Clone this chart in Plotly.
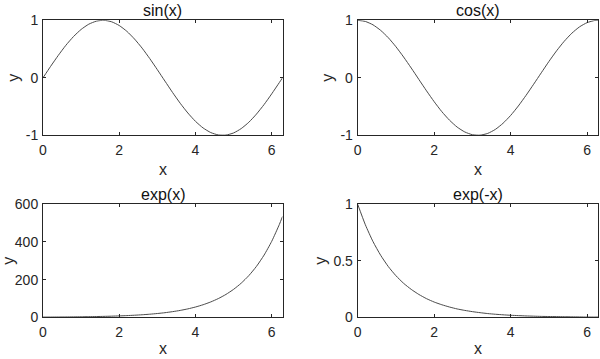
import plotly.graph_objects as go

# ---- data ----
x_vals = [0.0, 0.2, 0.4, 0.6, 0.8, 1.0, 1.2, 1.4, 1.6, 1.8, 2.0, 2.2, 2.4, 2.6, 2.8, 3.0,
          3.2, 3.4, 3.6, 3.8, 4.0, 4.2, 4.4, 4.6, 4.8, 5.0, 5.2, 5.4, 5.6, 5.8, 6.0, 6.2, 6.2832]

sin_vals = [0.000, 0.199, 0.389, 0.565, 0.717, 0.841, 0.932, 0.985, 1.000, 0.974, 0.909,
            0.808, 0.675, 0.516, 0.335, 0.141, -0.058, -0.256, -0.443, -0.612, -0.757,
            -0.872, -0.952, -0.994, -0.996, -0.959, -0.883, -0.773, -0.631, -0.465,
            -0.279, -0.083, 0.000]

cos_vals = [1.000, 0.980, 0.921, 0.825, 0.697, 0.540, 0.362, 0.170, -0.029, -0.227, -0.416,
            -0.589, -0.737, -0.857, -0.942, -0.990, -0.998, -0.967, -0.897, -0.791, -0.654,
            -0.490, -0.307, -0.112, 0.087, 0.284, 0.469, 0.635, 0.776, 0.886, 0.960,
            0.997, 1.000]

exp_vals = [1.0, 1.22, 1.49, 1.82, 2.23, 2.72, 3.32, 4.06, 4.95, 6.05, 7.39, 9.03, 11.0,
            13.5, 16.4, 20.1, 24.5, 30.0, 36.6, 44.7, 54.6, 66.7, 81.5, 99.5, 121.5, 148.4,
            181.3, 221.4, 270.4, 330.3, 403.4, 492.7, 535.5]

expneg_vals = [1.000, 0.819, 0.670, 0.549, 0.449, 0.368, 0.301, 0.247, 0.202, 0.165, 0.135,
               0.111, 0.091, 0.074, 0.061, 0.050, 0.041, 0.033, 0.027, 0.022, 0.018, 0.015,
               0.012, 0.010, 0.008, 0.007, 0.006, 0.005, 0.004, 0.003, 0.002, 0.002, 0.002]

titles = ["sin(x)", "cos(x)", "exp(x)", "exp(-x)"]
series = [sin_vals, cos_vals, exp_vals, expneg_vals]
x_range = [0, 6.2832]
x_ticks = [0, 2, 4, 6]
y_ranges = [[-1, 1], [-1, 1], [0, 600], [0, 1]]
y_ticks = [[-1, 0, 1], [-1, 0, 1], [0, 200, 400, 600], [0, 0.5, 1]]
y_ticktext = [["-1", "0", "1"], ["-1", "0", "1"], ["0", "200", "400", "600"], ["0", "0.5", "1"]]

# ---- layout geometry (pixels -> paper) ----
W, H = 600, 359
FONT = "Liberation Sans, Arial, sans-serif"
AX = "#262626"
LINE = "#4a4a4a"

px_x = [(43, 282.5), (357.7, 598), (43, 282.5), (357.7, 598)]
px_y = [(20.3, 135.3), (20.3, 135.3), (204.3, 317.3), (204.3, 317.3)]
xlab_bottom = [179.5, 179.5, 359, 359]   # bottom edge of x-label text boxes (px)

fig = go.Figure()
annotations = []
for i in range(4):
    n = i + 1
    xa = "x" if n == 1 else f"x{n}"
    ya = "y" if n == 1 else f"y{n}"
    fig.add_trace(go.Scatter(x=x_vals, y=series[i], mode="lines", xaxis=xa, yaxis=ya,
                             line=dict(color=LINE, width=1, shape="spline", smoothing=0.6),
                             showlegend=False, hoverinfo="skip"))
    xd = [px_x[i][0] / W, px_x[i][1] / W]
    yd = [1 - px_y[i][1] / H, 1 - px_y[i][0] / H]
    common = dict(showgrid=False, zeroline=False, showline=True, linecolor=AX, linewidth=1,
                  mirror="ticks", ticks="inside", ticklen=3, tickcolor=AX, tickwidth=1,
                  automargin=False, tickfont=dict(family=FONT, size=14, color=AX))
    fig.layout[("xaxis" if n == 1 else f"xaxis{n}")] = dict(
        domain=xd, range=x_range, tickvals=x_ticks, anchor=ya, ticklabelstandoff=2, **common)
    fig.layout[("yaxis" if n == 1 else f"yaxis{n}")] = dict(
        domain=yd, range=y_ranges[i], tickvals=y_ticks[i], ticktext=y_ticktext[i],
        anchor=xa, ticklabelstandoff=1, **common)

    cx = (px_x[i][0] + px_x[i][1]) / 2 / W
    top, bot = px_y[i]
    # title
    annotations.append(dict(text=titles[i], x=cx, y=1 - (top - 10) / H, xref="paper", yref="paper",
                            xanchor="center", yanchor="middle", showarrow=False,
                            font=dict(family=FONT, size=16, color="#111111")))
    # x label
    annotations.append(dict(text="x", x=cx, y=1 - xlab_bottom[i] / H, xref="paper", yref="paper",
                            xanchor="center", yanchor="bottom", showarrow=False,
                            font=dict(family=FONT, size=16, color=AX)))

ylab_x = [14, 328, 9, 321]
for i in range(4):
    top, bot = px_y[i]
    annotations.append(dict(text="y", x=ylab_x[i] / W, y=1 - (top + bot) / 2 / H,
                            xref="paper", yref="paper", xanchor="center", yanchor="middle",
                            textangle=-90, showarrow=False,
                            font=dict(family=FONT, size=16, color=AX)))

fig.update_layout(width=W, height=H, autosize=False,
                  margin=dict(l=0, r=0, t=0, b=0, pad=0, autoexpand=False),
                  paper_bgcolor="white", plot_bgcolor="white", annotations=annotations)

fig.write_html("out.html", config={"displayModeBar": False, "responsive": False},
               post_script="document.body.style.margin='0';document.body.style.padding='0';"
                           "document.body.style.overflow='hidden';")
